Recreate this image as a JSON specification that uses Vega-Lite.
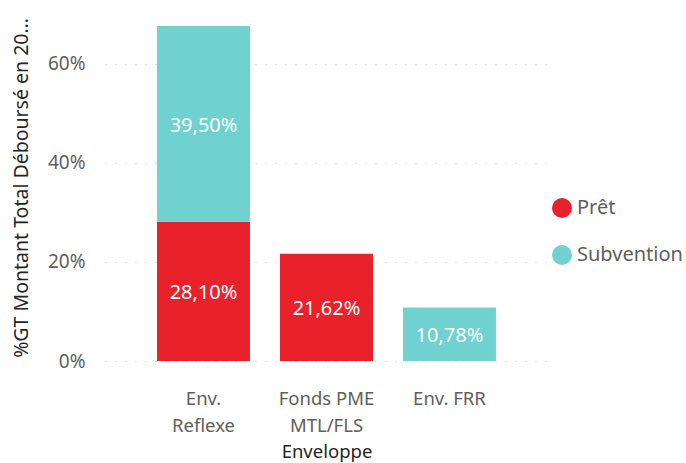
{
  "$schema": "https://vega.github.io/schema/vega-lite/v6.json",
  "width": 443,
  "height": 347,
  "autosize": "none",
  "padding": {"left": 105, "top": 14, "right": 138, "bottom": 102},
  "background": "white",
  "config": {
    "locale": {"number": {"decimal": ",", "thousands": " ", "grouping": [3], "currency": ["", " €"]}},
    "font": "Noto Sans",
    "view": {"stroke": null}
  },
  "data": {
    "values": [
      {"Enveloppe": "Env. Reflexe", "Type": "Prêt", "value": 0.2810},
      {"Enveloppe": "Env. Reflexe", "Type": "Subvention", "value": 0.3950},
      {"Enveloppe": "Fonds PME MTL/FLS", "Type": "Prêt", "value": 0.2162},
      {"Enveloppe": "Env. FRR", "Type": "Subvention", "value": 0.1078}
    ]
  },
  "transform": [
    {"stack": "value", "groupby": ["Enveloppe"], "sort": [{"field": "Type", "order": "ascending"}], "as": ["v0", "v1"]},
    {"calculate": "(datum.v0 + datum.v1) / 2", "as": "mid"}
  ],
  "encoding": {
    "x": {
      "field": "Enveloppe",
      "type": "nominal",
      "sort": ["Env. Reflexe", "Fonds PME MTL/FLS", "Env. FRR"],
      "scale": {"paddingInner": 0.244, "paddingOuter": 0.423},
      "title": "Enveloppe",
      "axis": {
        "labelAngle": 0,
        "labelExpr": "datum.value == 'Env. Reflexe' ? ['Env.', 'Reflexe'] : datum.value == 'Fonds PME MTL/FLS' ? ['Fonds PME', 'MTL/FLS'] : datum.value",
        "labelFontSize": 18.5,
        "labelColor": "#605E5C",
        "labelPadding": 28,
        "labelLineHeight": 27,
        "labelBaseline": "top",
        "domain": false,
        "ticks": false,
        "titleFontSize": 18.5,
        "titleColor": "#252423",
        "titleFontWeight": "normal",
        "titlePadding": 8
      }
    }
  },
  "layer": [
    {
      "mark": {"type": "bar"},
      "encoding": {
        "y": {
          "field": "v1",
          "type": "quantitative",
          "scale": {"domain": [0, 0.7]},
          "title": "%GT Montant Total Déboursé en 20…",
          "axis": {
            "format": ".0%",
            "values": [0, 0.2, 0.4, 0.6],
            "labelFontSize": 19,
            "labelColor": "#605E5C",
            "labelPadding": 20,
            "domain": false,
            "ticks": false,
            "gridColor": "#C8C6C4",
            "gridDash": [1, 9],
            "gridWidth": 1.2,
            "titleFontSize": 19.5,
            "titleColor": "#252423",
            "titleFontWeight": "normal",
            "titlePadding": 16
          }
        },
        "y2": {"field": "v0"},
        "color": {
          "field": "Type",
          "type": "nominal",
          "scale": {"domain": ["Prêt", "Subvention"], "range": ["#E8212B", "#70D1D1"]},
          "legend": {
            "title": null,
            "orient": "none",
            "legendX": 447,
            "legendY": 184,
            "symbolType": "circle",
            "symbolSize": 400,
            "symbolStrokeWidth": 0,
            "labelFontSize": 20,
            "labelColor": "#605E5C",
            "labelOffset": 5,
            "rowPadding": 27,
            "padding": 0
          }
        }
      }
    },
    {
      "mark": {"type": "text", "color": "white", "fontSize": 20, "baseline": "middle", "dy": 2},
      "encoding": {
        "y": {"field": "mid", "type": "quantitative"},
        "text": {"field": "value", "type": "quantitative", "format": ".2%"}
      }
    }
  ]
}
